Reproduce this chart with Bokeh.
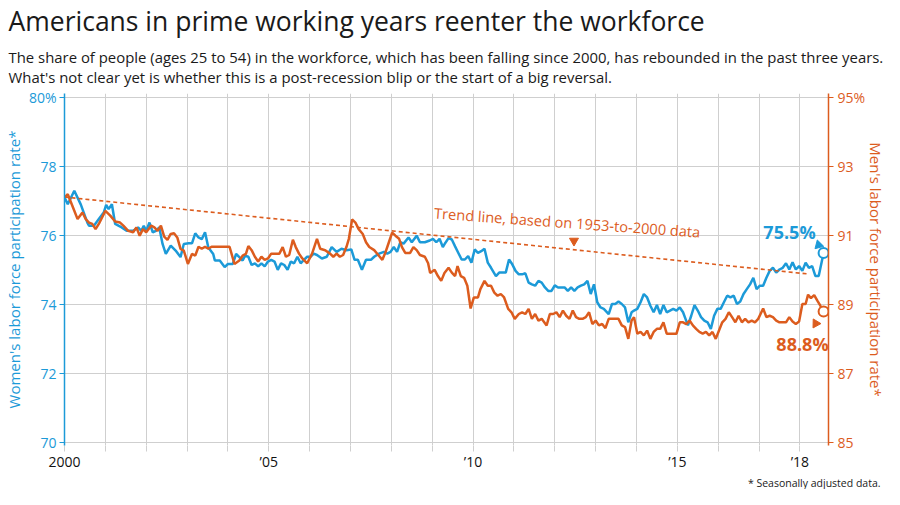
import numpy as np
from bokeh.plotting import figure
from bokeh.models import Range1d, LinearAxis, FixedTicker, Title, Label
from bokeh.core.properties import value
from bokeh.embed import file_html
from bokeh.resources import INLINE

# ---------------- data ----------------
women_years = [
    2000.00, 2000.08, 2000.24, 2000.40, 2000.56, 2000.60, 2000.72, 2000.84, 2000.96, 2001.02,
    2001.08, 2001.16, 2001.24, 2001.40, 2001.52, 2001.68, 2001.80, 2001.88, 2001.94, 2002.00,
    2002.08, 2002.16, 2002.24, 2002.32, 2002.40, 2002.48, 2002.60, 2002.72, 2002.84, 2002.92,
    2003.04, 2003.12, 2003.20, 2003.28, 2003.36, 2003.44, 2003.52, 2003.64, 2003.68, 2003.80,
    2003.92, 2004.00, 2004.12, 2004.20, 2004.28, 2004.36, 2004.42, 2004.50, 2004.58, 2004.66,
    2004.74, 2004.82, 2004.90, 2004.98, 2005.06, 2005.14, 2005.22, 2005.30, 2005.38, 2005.46,
    2005.54, 2005.62, 2005.70, 2005.78, 2005.86, 2005.94, 2006.02, 2006.10, 2006.18, 2006.30,
    2006.42, 2006.54, 2006.66, 2006.78, 2006.90, 2007.02, 2007.10, 2007.18, 2007.28, 2007.38,
    2007.50, 2007.58, 2007.70, 2007.82, 2007.90, 2007.98, 2008.06, 2008.14, 2008.22, 2008.30,
    2008.42, 2008.50, 2008.62, 2008.70, 2008.82, 2008.94, 2009.02, 2009.10, 2009.18, 2009.26,
    2009.32, 2009.40, 2009.48, 2009.56, 2009.64, 2009.72, 2009.80, 2009.88, 2009.96, 2010.04,
    2010.12, 2010.20, 2010.28, 2010.36, 2010.44, 2010.56, 2010.64, 2010.72, 2010.80, 2010.88,
    2010.96, 2011.04, 2011.12, 2011.20, 2011.28, 2011.36, 2011.44, 2011.52, 2011.60, 2011.68,
    2011.76, 2011.84, 2011.92, 2012.00, 2012.08, 2012.16, 2012.24, 2012.32, 2012.40, 2012.48,
    2012.56, 2012.64, 2012.72, 2012.80, 2012.88, 2012.96, 2013.04, 2013.12, 2013.20, 2013.32,
    2013.40, 2013.48, 2013.56, 2013.64, 2013.72, 2013.80, 2013.88, 2013.94, 2014.02, 2014.10,
    2014.18, 2014.26, 2014.34, 2014.42, 2014.50, 2014.58, 2014.66, 2014.74, 2014.82, 2014.90,
    2014.98, 2015.06, 2015.14, 2015.20, 2015.26, 2015.34, 2015.42, 2015.50, 2015.58, 2015.66,
    2015.74, 2015.82, 2015.90, 2015.98, 2016.06, 2016.14, 2016.22, 2016.30, 2016.38, 2016.46,
    2016.54, 2016.62, 2016.70, 2016.78, 2016.86, 2016.94, 2017.02, 2017.10, 2017.18, 2017.26,
    2017.34, 2017.42, 2017.50, 2017.58, 2017.66, 2017.74, 2017.82, 2017.90, 2017.98, 2018.06,
    2018.14, 2018.22, 2018.30, 2018.38, 2018.46, 2018.58,
]
women_rate = [
    77.11, 76.91, 77.30, 76.90, 76.38, 76.29, 76.29, 76.48, 76.67, 76.89,
    76.77, 76.91, 76.34, 76.24, 76.14, 76.14, 76.24, 76.14, 76.29, 76.14,
    76.38, 76.10, 76.14, 76.24, 75.76, 75.47, 75.71, 75.57, 75.38, 75.76,
    75.78, 75.78, 76.07, 75.95, 75.90, 76.10, 75.66, 75.47, 75.28, 75.28,
    75.09, 75.18, 75.18, 75.47, 75.38, 75.28, 75.42, 75.39, 75.15, 75.20,
    75.11, 75.20, 75.11, 75.25, 75.30, 75.25, 75.01, 75.20, 75.15, 75.01,
    75.25, 75.20, 75.39, 75.20, 75.30, 75.39, 75.39, 75.48, 75.44, 75.34,
    75.39, 75.67, 75.53, 75.62, 75.58, 75.60, 75.30, 75.30, 75.01, 75.30,
    75.30, 75.39, 75.48, 75.53, 75.48, 75.53, 75.67, 75.53, 75.81, 75.77,
    75.95, 75.81, 76.00, 75.81, 75.81, 75.86, 75.91, 75.81, 75.91, 75.67,
    75.79, 75.93, 75.89, 75.69, 75.50, 75.31, 75.31, 75.41, 75.22, 75.60,
    75.50, 75.55, 75.62, 75.22, 75.07, 74.83, 74.93, 74.93, 74.93, 75.31,
    75.17, 74.98, 74.88, 74.88, 74.91, 74.64, 74.59, 74.55, 74.69, 74.64,
    74.50, 74.40, 74.40, 74.56, 74.50, 74.50, 74.50, 74.40, 74.50, 74.40,
    74.50, 74.55, 74.59, 74.69, 74.31, 74.59, 74.07, 73.92, 73.88, 73.73,
    74.02, 74.02, 74.09, 74.02, 73.92, 73.49, 73.78, 73.83, 73.88, 74.07,
    74.31, 74.21, 73.97, 73.78, 73.99, 73.73, 73.99, 73.78, 73.83, 73.88,
    73.83, 73.92, 73.78, 73.59, 73.40, 73.68, 73.99, 73.83, 73.64, 73.54,
    73.49, 73.30, 73.68, 73.88, 73.88, 74.07, 74.26, 74.21, 74.26, 74.02,
    74.09, 74.31, 74.45, 74.59, 74.78, 74.45, 74.55, 74.55, 74.78, 74.98,
    75.07, 74.93, 75.02, 75.07, 75.20, 75.02, 75.23, 75.02, 75.12, 74.98,
    75.22, 75.07, 75.12, 74.83, 74.83, 75.50,
]

men_years = [
    2000.00, 2000.08, 2000.16, 2000.24, 2000.32, 2000.44, 2000.52, 2000.60, 2000.68, 2000.76,
    2000.84, 2000.92, 2001.00, 2001.12, 2001.24, 2001.36, 2001.44, 2001.56, 2001.68, 2001.76,
    2001.84, 2001.92, 2002.00, 2002.12, 2002.20, 2002.28, 2002.36, 2002.44, 2002.52, 2002.60,
    2002.68, 2002.76, 2002.84, 2002.92, 2003.02, 2003.12, 2003.20, 2003.28, 2003.36, 2003.44,
    2003.52, 2003.60, 2003.80, 2004.04, 2004.16, 2004.28, 2004.36, 2004.44, 2004.50, 2004.58,
    2004.66, 2004.74, 2004.82, 2004.90, 2004.98, 2005.06, 2005.14, 2005.26, 2005.34, 2005.42,
    2005.50, 2005.59, 2005.66, 2005.74, 2005.82, 2005.94, 2006.06, 2006.18, 2006.26, 2006.38,
    2006.50, 2006.58, 2006.66, 2006.74, 2006.82, 2006.90, 2006.96, 2007.04, 2007.12, 2007.20,
    2007.30, 2007.38, 2007.46, 2007.58, 2007.68, 2007.78, 2007.86, 2007.94, 2008.02, 2008.10,
    2008.19, 2008.26, 2008.34, 2008.46, 2008.54, 2008.62, 2008.70, 2008.82, 2008.90, 2008.95,
    2009.06, 2009.14, 2009.22, 2009.30, 2009.40, 2009.48, 2009.56, 2009.62, 2009.70, 2009.78,
    2009.86, 2009.94, 2010.02, 2010.12, 2010.18, 2010.28, 2010.36, 2010.44, 2010.52, 2010.60,
    2010.68, 2010.76, 2010.86, 2010.94, 2011.02, 2011.12, 2011.20, 2011.28, 2011.36, 2011.44,
    2011.52, 2011.60, 2011.68, 2011.80, 2011.88, 2011.96, 2012.04, 2012.12, 2012.20, 2012.28,
    2012.36, 2012.44, 2012.52, 2012.60, 2012.68, 2012.76, 2012.84, 2012.92, 2013.00, 2013.08,
    2013.16, 2013.24, 2013.32, 2013.40, 2013.48, 2013.56, 2013.64, 2013.72, 2013.80, 2013.88,
    2013.94, 2014.02, 2014.10, 2014.18, 2014.26, 2014.34, 2014.42, 2014.50, 2014.58, 2014.66,
    2014.74, 2014.82, 2014.90, 2014.98, 2015.06, 2015.14, 2015.22, 2015.30, 2015.38, 2015.46,
    2015.54, 2015.62, 2015.70, 2015.78, 2015.86, 2015.94, 2016.02, 2016.10, 2016.18, 2016.26,
    2016.34, 2016.42, 2016.50, 2016.58, 2016.66, 2016.74, 2016.82, 2016.90, 2016.98, 2017.10,
    2017.18, 2017.26, 2017.34, 2017.42, 2017.50, 2017.58, 2017.66, 2017.74, 2017.82, 2017.90,
    2017.98, 2018.06, 2018.14, 2018.20, 2018.27, 2018.35, 2018.43, 2018.50, 2018.58,
]
men_rate = [
    92.11, 92.20, 91.96, 91.72, 91.48, 91.67, 91.48, 91.38, 91.34, 91.19,
    91.34, 91.53, 91.72, 91.58, 91.41, 91.38, 91.29, 91.14, 91.10, 91.24,
    91.00, 91.19, 91.10, 91.29, 91.24, 91.14, 91.29, 90.97, 90.88, 91.05,
    91.07, 90.95, 90.62, 90.57, 90.18, 90.47, 90.42, 90.68, 90.62, 90.68,
    90.62, 90.68, 90.68, 90.68, 90.18, 90.28, 90.42, 90.47, 90.70, 90.58,
    90.39, 90.25, 90.39, 90.30, 90.34, 90.48, 90.48, 90.48, 90.67, 90.39,
    90.44, 90.88, 90.67, 90.48, 90.34, 90.20, 90.48, 90.91, 90.62, 90.58,
    90.48, 90.39, 90.48, 90.39, 90.44, 90.67, 90.91, 91.47, 91.38, 91.19,
    91.05, 90.81, 90.67, 90.58, 90.44, 90.30, 90.53, 90.81, 91.09, 91.00,
    90.91, 90.67, 90.50, 90.50, 90.67, 90.58, 90.44, 90.39, 90.20, 89.92,
    90.01, 89.83, 89.69, 89.92, 90.07, 89.93, 89.83, 90.12, 89.83, 89.78,
    89.55, 88.89, 89.21, 89.21, 89.45, 89.69, 89.55, 89.55, 89.35, 89.26,
    89.31, 89.21, 88.88, 88.78, 88.59, 88.73, 88.78, 88.73, 88.88, 88.59,
    88.73, 88.54, 88.59, 88.40, 88.73, 88.73, 88.78, 88.64, 88.83, 88.68,
    88.59, 88.83, 88.64, 88.59, 88.59, 88.64, 88.78, 88.44, 88.54, 88.40,
    88.44, 88.32, 88.59, 88.59, 88.59, 88.59, 88.40, 88.35, 88.01, 88.54,
    88.64, 88.16, 88.21, 88.11, 88.25, 88.01, 88.21, 88.30, 88.30, 88.49,
    88.16, 88.16, 88.16, 88.16, 88.49, 88.49, 88.44, 88.54, 88.40, 88.30,
    88.21, 88.16, 88.21, 88.11, 88.21, 88.01, 88.25, 88.49, 88.59, 88.78,
    88.64, 88.49, 88.68, 88.49, 88.59, 88.49, 88.54, 88.49, 88.59, 88.89,
    88.64, 88.68, 88.64, 88.54, 88.49, 88.49, 88.49, 88.64, 88.51, 88.44,
    88.51, 89.02, 89.02, 89.29, 89.19, 89.28, 89.11, 88.97, 88.80,
]

trend_years = [2000.0, 2018.2]
trend_rate = [92.12, 89.89]

women_ticks = [70, 72, 74, 76, 78, 80]
men_ticks = [85, 87, 89, 91, 93, 95]
year_ticks = list(range(2000, 2019))
year_labels = {2000: "2000", 2005: "\u201905", 2010: "\u201910", 2015: "\u201915", 2018: "\u201918"}

title_text = "Americans in prime working years reenter the workforce"
subtitle_1 = ("The share of people (ages 25 to 54) in the workforce, which has been falling "
              "since 2000, has rebounded in the past three years.")
subtitle_2 = "What's not clear yet is whether this is a post-recession blip or the start of a big reversal."
footnote = "* Seasonally adjusted data."
women_label = "Women's labor force participation rate*"
men_label = "Men's labor force participation rate*"
trend_note = "Trend line, based on 1953-to-2000 data"
trend_note_year = 2009.05
trend_arrow_year = 2012.47

# ---------------- styling ----------------
BLUE = "#1c9ad8"
ORANGE = "#dc5c1e"
GRID = "#cfcfcf"
FONT = "Open Sans"
W_LO, W_HI = 69.92, 80.12
OFFSET = 15.0  # men's axis = women's axis + 15
LEFT = 56

p = figure(width=884, height=489, output_backend="svg", toolbar_location=None,
           x_range=Range1d(2000, 2018.7), y_range=Range1d(W_LO, W_HI),
           min_border_left=LEFT, min_border_right=0, min_border_top=0, min_border_bottom=0,
           background_fill_color="white", border_fill_color="white")
p.extra_y_ranges = {"men": Range1d(W_LO + OFFSET, W_HI + OFFSET)}
p.outline_line_color = None

# right (men) axis -- added first so that it sits next to the frame
ra = LinearAxis(y_range_name="men", ticker=FixedTicker(ticks=men_ticks))
ra.major_label_overrides = {95: "95%"}
ra.axis_line_color = ORANGE
ra.axis_line_width = 1.5
ra.major_tick_line_color = ORANGE
ra.major_tick_out = 5
ra.major_tick_in = 0
ra.minor_tick_line_color = None
ra.major_label_text_font = FONT
ra.major_label_text_font_size = "14px"
ra.major_label_text_color = ORANGE
ra.major_label_standoff = 4
ra.axis_label = None
p.add_layout(ra, "right")

# titles (stacked above; last added sits on top)
p.add_layout(Title(text=subtitle_1 + "\n" + subtitle_2, align="left", offset=-LEFT, text_font=FONT,
                   text_font_size="14.9px", text_font_style="normal", text_color="#1a1a1a",
                   text_line_height=1.0, standoff=13), "above")
p.add_layout(Title(text=title_text, align="left", offset=-LEFT, text_font=FONT, text_font_size="26.5px",
                   text_font_style="normal", text_color="#1a1a1a", text_line_height=0.85, standoff=0),
             "above")
p.add_layout(Title(text=footnote, align="right", offset=-52, text_font=FONT, text_font_size="10.5px",
                   text_font_style="normal", text_color="#1a1a1a", standoff=0),
             "below")
p.add_layout(Title(text=men_label, align="center", text_font=FONT, text_font_size="15px",
                   text_font_style="normal", text_color=ORANGE, text_line_height=0.8, standoff=-6),
             "right")

# grids
p.xgrid.ticker = FixedTicker(ticks=year_ticks)
p.ygrid.ticker = FixedTicker(ticks=women_ticks)
p.xgrid.grid_line_color = GRID
p.ygrid.grid_line_color = GRID
p.xgrid.grid_line_width = 1
p.ygrid.grid_line_width = 1.2

# x axis
xa = p.xaxis[0]
xa.axis_label = None
xa.ticker = FixedTicker(ticks=year_ticks)
xa.major_label_overrides = {y: year_labels.get(y, "") for y in year_ticks}
xa.axis_line_color = None
xa.major_tick_line_color = GRID
xa.major_tick_out = 6
xa.major_tick_in = 0
xa.minor_tick_line_color = None
xa.major_label_text_font = FONT
xa.major_label_text_font_size = "14px"
xa.major_label_text_color = "#111111"
xa.major_label_standoff = 0

# left (women) axis
ya = p.yaxis[0]
ya.ticker = FixedTicker(ticks=women_ticks)
ya.major_label_overrides = {80: "80%"}
ya.axis_line_color = BLUE
ya.axis_line_width = 1.5
ya.major_tick_line_color = BLUE
ya.major_tick_out = 5
ya.major_tick_in = 0
ya.minor_tick_line_color = None
ya.major_label_text_font = FONT
ya.major_label_text_font_size = "14px"
ya.major_label_text_color = BLUE
ya.major_label_standoff = 3
ya.axis_label = women_label
ya.axis_label_text_font = FONT
ya.axis_label_text_font_size = "15px"
ya.axis_label_text_font_style = "normal"
ya.axis_label_text_color = BLUE
ya.axis_label_standoff = 2

# series
p.line(women_years, women_rate, line_color=BLUE, line_width=2.5)
p.line(men_years, men_rate, y_range_name="men", line_color=ORANGE, line_width=2.5)
p.line(trend_years, trend_rate, y_range_name="men", line_color=ORANGE, line_width=1.6, line_dash="4 3")

# endpoints
p.scatter([women_years[-1]], [women_rate[-1]], size=10, fill_color="white", line_color=BLUE, line_width=2)
p.scatter([men_years[-1]], [men_rate[-1]], y_range_name="men", size=10, fill_color="white",
          line_color=ORANGE, line_width=2)

# end labels
p.add_layout(Label(x=women_years[-1], y=women_rate[-1], text=f"{women_rate[-1]:.1f}%",
                   x_offset=-8, y_offset=21, text_align="right", text_baseline="middle",
                   text_font=FONT, text_font_style="bold", text_font_size="18px", text_color=BLUE))
p.add_layout(Label(x=men_years[-1], y=men_rate[-1], y_range_name="men", text=f"{men_rate[-1]:.1f}%",
                   x_offset=5, y_offset=-32, text_align="right", text_baseline="middle",
                   text_font=FONT, text_font_style="bold", text_font_size="18px", text_color=ORANGE))

# pointers
px_per_year = 41.5
px_per_unit = 34.8
p.scatter([women_years[-1] - 5 / px_per_year], [women_rate[-1] + 8 / px_per_unit], marker="triangle",
          size=9, angle=2.36, fill_color=BLUE, line_color=BLUE)
p.scatter([men_years[-1] - 8 / px_per_year], [men_rate[-1] - 12 / px_per_unit], y_range_name="men",
          marker="triangle", size=9, angle=0.5, fill_color=ORANGE, line_color=ORANGE)

trend_at_arrow = float(np.interp(trend_arrow_year, trend_years, trend_rate))
p.scatter([trend_arrow_year], [trend_at_arrow + 9 / px_per_unit], y_range_name="men",
          marker="inverted_triangle", size=9, fill_color=ORANGE, line_color=ORANGE)

trend_at_note = float(np.interp(trend_note_year, trend_years, trend_rate))
p.text([trend_note_year], [trend_at_note + 23 / px_per_unit], y_range_name="men", text=[trend_note],
       angle=-0.072, text_align="left", text_baseline="middle", text_font=value(FONT),
       text_font_size="14.6px", text_color=ORANGE)

open("out.html", "w").write(file_html(p, INLINE))
